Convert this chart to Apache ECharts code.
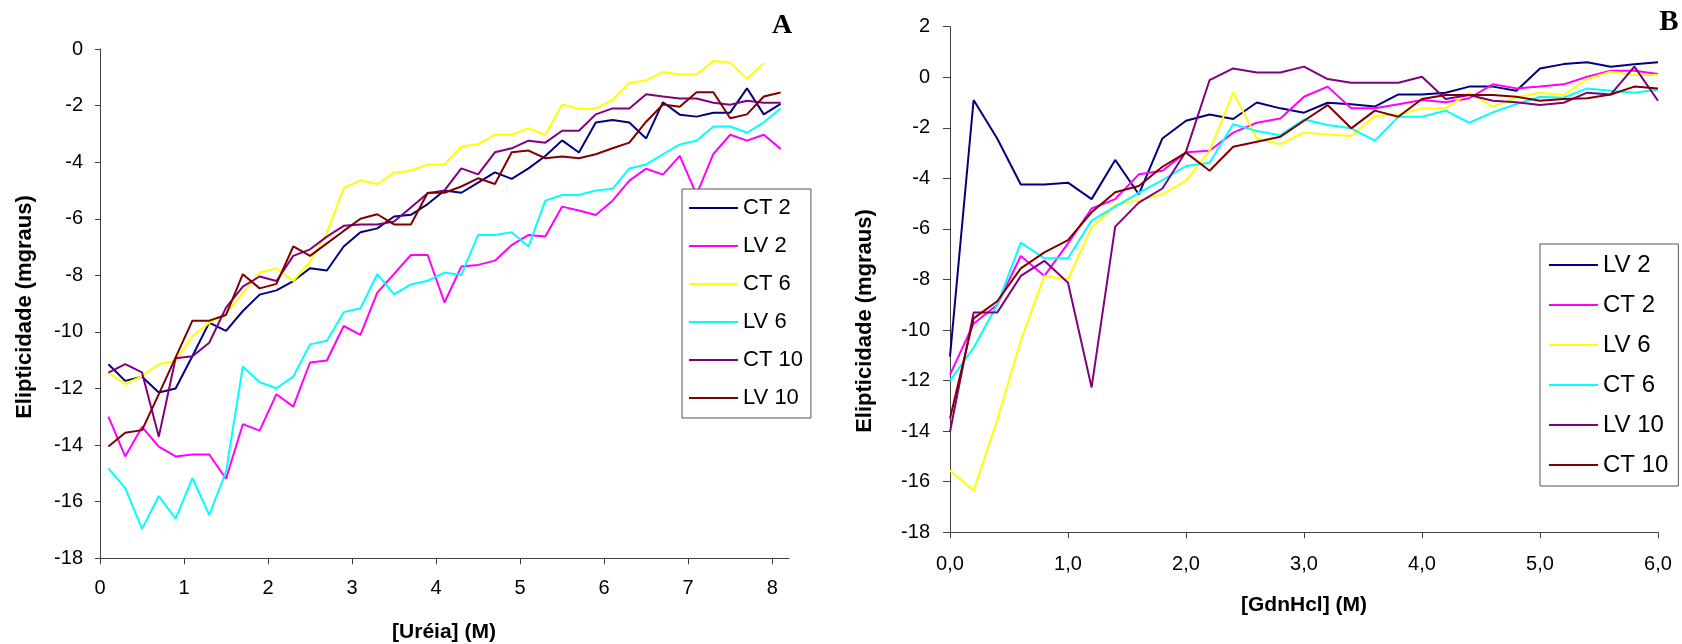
<!DOCTYPE html>
<html>
<head>
<meta charset="utf-8">
<script src="https://cdn.jsdelivr.net/npm/echarts@6/dist/echarts.min.js"></script>
<style>
html,body{margin:0;padding:0;background:#fff;}
#c{width:1682px;height:644px;}
</style>
</head>
<body>
<div id="c"></div>
<script>
// ---------- Panel A: Uréia ----------
const xA = [0.1,0.3,0.5,0.7,0.9,1.1,1.3,1.5,1.7,1.9,2.1,2.3,2.5,2.7,2.9,3.1,3.3,3.5,3.7,3.9,4.1,4.3,4.5,4.7,4.9,5.1,5.3,5.5,5.7,5.9,6.1,6.3,6.5,6.7,6.9,7.1,7.3,7.5,7.7,7.9,8.1];
const xTicksA = [0,1,2,3,4,5,6,7,8];
const namesA = ['CT 2','LV 2','CT 6','LV 6','CT 10','LV 10'];
const ct2A  = [-11.14,-11.73,-11.58,-12.14,-12.0,-10.85,-9.67,-9.96,-9.26,-8.68,-8.53,-8.2,-7.75,-7.83,-6.98,-6.48,-6.34,-5.92,-5.86,-5.48,-5.0,-5.08,-4.72,-4.36,-4.59,-4.22,-3.78,-3.23,-3.66,-2.6,-2.51,-2.6,-3.16,-1.88,-2.32,-2.39,-2.25,-2.25,-1.39,-2.31,-1.94];
const lv2A  = [-12.99,-14.4,-13.36,-14.05,-14.4,-14.33,-14.33,-15.19,-13.26,-13.49,-12.2,-12.64,-11.08,-11.01,-9.79,-10.1,-8.61,-7.95,-7.28,-7.28,-8.96,-7.69,-7.63,-7.48,-6.93,-6.57,-6.63,-5.57,-5.71,-5.87,-5.36,-4.65,-4.23,-4.44,-3.78,-5.15,-3.71,-3.03,-3.24,-3.03,-3.53];
const ct6A  = [-11.44,-11.84,-11.56,-11.14,-11.02,-10.15,-9.68,-9.34,-8.63,-7.9,-7.75,-8.2,-7.51,-6.51,-4.92,-4.64,-4.78,-4.37,-4.3,-4.08,-4.08,-3.45,-3.37,-3.03,-3.03,-2.8,-3.03,-1.96,-2.11,-2.11,-1.8,-1.19,-1.11,-0.81,-0.9,-0.9,-0.42,-0.48,-1.06,-0.5];
const lv6A  = [-14.82,-15.52,-16.96,-15.8,-16.6,-15.17,-16.47,-14.94,-11.22,-11.78,-11.99,-11.58,-10.44,-10.31,-9.3,-9.16,-7.96,-8.67,-8.32,-8.19,-7.9,-7.99,-6.57,-6.57,-6.48,-6.98,-5.36,-5.16,-5.16,-5.0,-4.94,-4.22,-4.08,-3.72,-3.37,-3.24,-2.74,-2.74,-2.96,-2.59,-2.1];
const ct10A = [-11.44,-11.14,-11.43,-13.7,-10.93,-10.86,-10.38,-9.14,-8.4,-8.04,-8.2,-7.31,-7.08,-6.63,-6.25,-6.2,-6.2,-6.1,-5.6,-5.1,-5.0,-4.22,-4.43,-3.65,-3.51,-3.24,-3.31,-2.89,-2.89,-2.31,-2.1,-2.1,-1.6,-1.68,-1.75,-1.75,-1.9,-1.97,-1.83,-1.9,-1.9];
const lv10A = [-14.05,-13.56,-13.47,-12.2,-10.9,-9.6,-9.6,-9.4,-7.96,-8.46,-8.3,-6.98,-7.31,-6.87,-6.43,-6.0,-5.84,-6.2,-6.2,-5.08,-5.08,-4.86,-4.57,-4.77,-3.65,-3.59,-3.86,-3.8,-3.86,-3.72,-3.51,-3.31,-2.57,-1.96,-2.04,-1.53,-1.53,-2.45,-2.31,-1.68,-1.54];

// ---------- Panel B: GdnHcl ----------
const xB = [0,0.2,0.4,0.6,0.8,1.0,1.2,1.4,1.6,1.8,2.0,2.2,2.4,2.6,2.8,3.0,3.2,3.4,3.6,3.8,4.0,4.2,4.4,4.6,4.8,5.0,5.2,5.4,5.6,5.8,6.0];
const namesB = ['LV 2','CT 2','LV 6','CT 6','LV 10','CT 10'];
const lv2B  = [-11.05,-0.9,-2.42,-4.24,-4.24,-4.17,-4.82,-3.27,-4.63,-2.42,-1.72,-1.47,-1.65,-1.0,-1.23,-1.4,-1.01,-1.07,-1.16,-0.68,-0.68,-0.61,-0.37,-0.37,-0.53,0.35,0.52,0.59,0.42,0.51,0.59];
const ct2B  = [-11.76,-9.75,-9.0,-7.07,-7.86,-6.57,-5.19,-4.82,-3.84,-3.7,-2.97,-2.91,-2.19,-1.8,-1.63,-0.77,-0.37,-1.23,-1.23,-1.07,-0.9,-0.99,-0.83,-0.28,-0.44,-0.37,-0.28,0.02,0.26,0.26,0.13];
const lv6B  = [-15.56,-16.35,-13.56,-10.42,-7.86,-7.99,-5.95,-5.05,-4.86,-4.63,-4.09,-2.91,-0.6,-2.42,-2.65,-2.19,-2.26,-2.32,-1.53,-1.47,-1.23,-1.23,-0.61,-1.16,-0.8,-0.61,-0.7,-0.07,0.22,0.09,0.09];
const ct6B  = [-12.0,-10.7,-9.0,-6.54,-7.16,-7.16,-5.67,-5.12,-4.57,-4.07,-3.51,-3.38,-1.86,-2.13,-2.29,-1.67,-1.89,-2.02,-2.51,-1.56,-1.56,-1.32,-1.8,-1.39,-1.06,-0.77,-0.81,-0.44,-0.53,-0.61,-0.48];
const lv10B = [-14.02,-9.31,-9.31,-7.86,-7.26,-8.13,-12.27,-5.91,-4.96,-4.4,-2.94,-0.11,0.35,0.19,0.19,0.42,-0.07,-0.22,-0.22,-0.22,0.02,-0.86,-0.7,-0.93,-0.99,-1.1,-1.01,-0.61,-0.68,0.42,-0.93];
const ct10B = [-13.5,-9.54,-8.86,-7.56,-6.93,-6.44,-5.34,-4.55,-4.3,-3.54,-2.98,-3.7,-2.75,-2.55,-2.35,-1.72,-1.1,-2.02,-1.32,-1.56,-0.86,-0.7,-0.7,-0.7,-0.77,-0.93,-0.86,-0.83,-0.68,-0.37,-0.44];

const colors = ['#000080','#FF00FF','#FFFF00','#00FFFF','#800080','#800000'];
const seriesA = [ct2A, lv2A, ct6A, lv6A, ct10A, lv10A];
const seriesB = [lv2B, ct2B, lv6B, ct6B, lv10B, ct10B];

const FONT = 'Liberation Sans, Arial, sans-serif';
const AXC = '#404040';

function pairs(xs, ys){ return ys.map((y,i)=>[xs[i], y]); }

const series = [];
namesA.forEach((n,k)=>series.push({
  name:'A:'+n, type:'line', xAxisIndex:0, yAxisIndex:0,
  data:pairs(xA, seriesA[k]), symbol:'none', color:colors[k],
  lineStyle:{width:2, color:colors[k]}, itemStyle:{color:colors[k]}, animation:false
}));
namesB.forEach((n,k)=>series.push({
  name:'B:'+n, type:'line', xAxisIndex:1, yAxisIndex:1,
  data:pairs(xB, seriesB[k]), symbol:'none', color:colors[k],
  lineStyle:{width:2, color:colors[k]}, itemStyle:{color:colors[k]}, animation:false
}));

const chart = echarts.init(document.getElementById('c'));
chart.setOption({
  backgroundColor:'#fff',
  animation:false,
  grid:[
    {left:100, top:49, width:689, height:509.3},
    {left:950, top:26.7, width:708, height:505.6}
  ],
  xAxis:[
    {type:'value', gridIndex:0, min:0, max:8.2, interval:1,
     axisLine:{show:true, onZero:false, lineStyle:{color:AXC, width:1}},
     axisTick:{show:true, length:6, customValues:xTicksA, lineStyle:{color:AXC}},
     axisLabel:{customValues:xTicksA, margin:20, fontSize:20, fontFamily:FONT, color:'#000'},
     splitLine:{show:false}},
    {type:'value', gridIndex:1, min:0, max:6, interval:1,
     axisLine:{show:true, onZero:false, lineStyle:{color:AXC, width:1}},
     axisTick:{show:true, length:6, lineStyle:{color:AXC}},
     axisLabel:{margin:22, fontSize:20, fontFamily:FONT, color:'#000',
       formatter:v=>v.toFixed(1).replace('.',',')},
     splitLine:{show:false}}
  ],
  yAxis:[
    {type:'value', gridIndex:0, min:-18, max:0, interval:2,
     axisLine:{show:true, onZero:false, lineStyle:{color:AXC, width:1}},
     axisTick:{show:true, length:5, lineStyle:{color:AXC}},
     axisLabel:{margin:17, fontSize:20, fontFamily:FONT, color:'#000'},
     splitLine:{show:false}},
    {type:'value', gridIndex:1, min:-18, max:2, interval:2,
     axisLine:{show:true, onZero:false, lineStyle:{color:AXC, width:1}},
     axisTick:{show:true, length:7, lineStyle:{color:AXC}},
     axisLabel:{margin:20, fontSize:20, fontFamily:FONT, color:'#000'},
     splitLine:{show:false}}
  ],
  legend:[
    {orient:'vertical', left:682, top:189, data:namesA.map(n=>'A:'+n),
     formatter:n=>n.slice(2), icon:'rect', itemWidth:49, itemHeight:2, itemGap:16,
     padding:[8,8,9,7], borderColor:'#555', borderWidth:1, backgroundColor:'#fff',
     selectedMode:false,
     textStyle:{fontSize:22, lineHeight:22, fontFamily:FONT, color:'#000'}},
    {orient:'vertical', left:1540, top:244, data:namesB.map(n=>'B:'+n),
     formatter:n=>n.slice(2), icon:'rect', itemWidth:49, itemHeight:2, itemGap:16,
     padding:[9,10,9,9], borderColor:'#555', borderWidth:1, backgroundColor:'#fff',
     selectedMode:false,
     textStyle:{fontSize:24, lineHeight:24, fontFamily:FONT, color:'#000'}}
  ],
  graphic:[
    {type:'text', x:25, y:307, rotation:Math.PI/2,
     style:{text:'Elipticidade (mgraus)', font:'bold 22px '+FONT, fill:'#000', textAlign:'center', textVerticalAlign:'middle'}},
    {type:'text', x:865, y:321, rotation:Math.PI/2,
     style:{text:'Elipticidade (mgraus)', font:'bold 22px '+FONT, fill:'#000', textAlign:'center', textVerticalAlign:'middle'}},
    {type:'text', x:444, y:632,
     style:{text:'[Uréia] (M)', font:'bold 21px '+FONT, fill:'#000', textAlign:'center', textVerticalAlign:'middle'}},
    {type:'text', x:1304, y:605,
     style:{text:'[GdnHcl] (M)', font:'bold 21px '+FONT, fill:'#000', textAlign:'center', textVerticalAlign:'middle'}},
    {type:'text', x:782, y:26,
     style:{text:'A', font:'bold 28px Liberation Serif, Times New Roman, serif', fill:'#000', textAlign:'center', textVerticalAlign:'middle'}},
    {type:'text', x:1669, y:23,
     style:{text:'B', font:'bold 29px Liberation Serif, Times New Roman, serif', fill:'#000', textAlign:'center', textVerticalAlign:'middle'}}
  ],
  series:series
});
</script>
</body>
</html>
